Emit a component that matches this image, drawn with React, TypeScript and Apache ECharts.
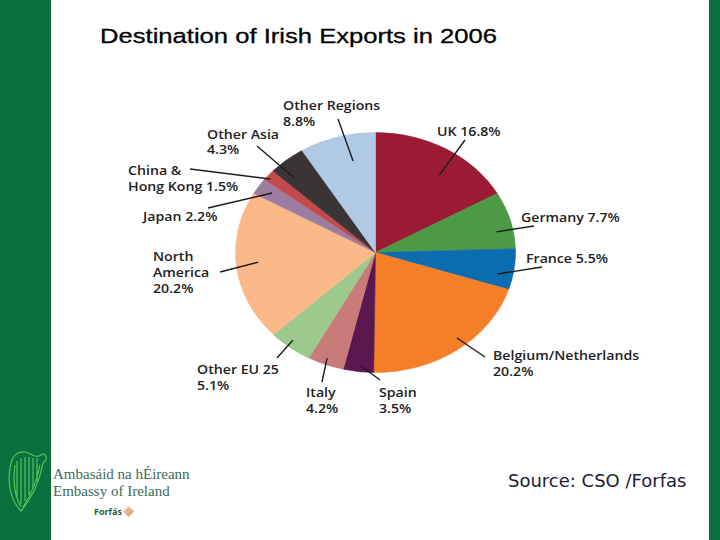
import React, { useEffect, useRef } from "react";
import * as echarts from "echarts";

// ---- data ----
const categories = [
  "UK",
  "Germany",
  "France",
  "Belgium/Netherlands",
  "Spain",
  "Italy",
  "Other EU 25",
  "North\nAmerica",
  "Japan",
  "China &\nHong Kong",
  "Other Asia",
  "Other Regions",
];
const shares = [16.8, 7.7, 5.5, 20.2, 3.5, 4.2, 5.1, 20.2, 2.2, 1.5, 4.3, 8.8];

// ---- styles / layout ----
const sliceColors = [
  "#9a1b33",
  "#4c9a45",
  "#0b6cb0",
  "#f47f27",
  "#5a184f",
  "#c87b79",
  "#9dc98c",
  "#fbb989",
  "#9b7da2",
  "#c4494b",
  "#3b3434",
  "#b0c9e4",
];
// label text position (left x, centre y of first line), separator, leader line
const labelLayout = [
  { tx: 437, ty: 131, sep: " ", rf: 0.79, da: 5, ox: 465, oy: 140 },
  { tx: 521, ty: 216.5, sep: " ", rf: 0.88, da: 4.4, ox: 534, oy: 226 },
  { tx: 526, ty: 257.5, sep: " ", rf: 0.89, da: 3.5, ox: 542, oy: 267 },
  { tx: 493, ty: 355, sep: "\n", rf: 0.92, da: -3.6, ox: 485, oy: 357 },
  { tx: 379, ty: 391.5, sep: "\n", rf: 0.95, da: -0.7, ox: 380, oy: 380 },
  { tx: 306, ty: 391.5, sep: "\n", rf: 0.945, da: 0.6, ox: 322, oy: 382 },
  { tx: 197, ty: 368.5, sep: "\n", rf: 0.94, da: 1.3, ox: 277, oy: 358 },
  { tx: 153, ty: 256, sep: "\n", rf: 0.84, da: 1.4, ox: 220, oy: 272 },
  { tx: 143, ty: 216, sep: " ", rf: 0.89, da: 0.4, ox: 208, oy: 208 },
  { tx: 128, ty: 170, sep: " ", rf: 0.97, da: -1, ox: 190, oy: 169 },
  { tx: 207, ty: 133.3, sep: "\n", rf: 0.85, da: -3.6, ox: 257, oy: 146 },
  { tx: 283, ty: 104.5, sep: "\n", rf: 0.78, da: 4, ox: 338, oy: 119 },
];
const CX = 375.5;
const CY = 252.5;
const RX = 140;
const RY = 120;
const LINE_GAP = 15.8;
const LABEL_FONT = "'Open Sans', 'Noto Sans', sans-serif";
const GREEN = "#07703c";

const harpPath =
  "M 14 62 C 2 50 0 30 4 14 C 6 6 12 2 18 3 C 24 4 28 10 34 6 C 38 3 41 8 38 12 L 36 14 C 33 30 26 48 14 62 Z " +
  "M 33 16 C 30 32 24 46 16 58 M 8 16 C 6 30 7 46 14 58 " +
  "M 10 12 L 10 50 M 14 9 L 14 55 M 18 8 L 18 52 M 22 8 L 22 46 M 26 9 L 26 40 M 30 9 L 30 32";

let registered = false;
function registerShapes() {
  if (registered) return;
  registered = true;
  echarts.graphic.registerShape("harp", echarts.graphic.extendPath(harpPath, {}));
}

export default function App() {
  const ref = useRef<HTMLDivElement>(null);

  useEffect(() => {
    if (!ref.current) return;
    registerShapes();
    const chart = echarts.init(ref.current, undefined, { renderer: "svg" });
    const total = shares.reduce((a, b) => a + b, 0);

    const renderItem = (params: any, api: any) => {
      const i = params.dataIndex;
      const v = api.value(0);
      let before = 0;
      for (let k = 0; k < i; k++) before += shares[k];
      const startFrac = before / total;
      const frac = v / total;
      const startAngle = -Math.PI / 2 + startFrac * Math.PI * 2;
      const endAngle = startAngle + frac * Math.PI * 2;
      const L = labelLayout[i];
      const midDeg = (startFrac + frac / 2) * 360 + L.da;
      const a = (midDeg * Math.PI) / 180;
      const ix = CX + RX * L.rf * Math.sin(a);
      const iy = CY - RY * L.rf * Math.cos(a);
      const text = categories[i] + L.sep + v.toFixed(1) + "%";
      const lines = text.split("\n");
      const children: any[] = [
        {
          type: "sector",
          x: CX,
          y: CY,
          scaleY: RY / RX,
          shape: { cx: 0, cy: 0, r: RX, r0: 0, startAngle, endAngle, clockwise: true },
          style: { fill: sliceColors[i], stroke: sliceColors[i], lineWidth: 0.6 },
        },
        {
          type: "line",
          z2: 10,
          shape: { x1: ix, y1: iy, x2: L.ox, y2: L.oy },
          style: { stroke: "#1c1c1c", lineWidth: 1.4 },
        },
      ];
      lines.forEach((ln, j) => {
        children.push({
          type: "text",
          z2: 10,
          x: L.tx,
          y: L.ty + j * LINE_GAP,
          scaleX: 1.09,
          style: {
            text: ln,
            fill: "#222222",
            font: `600 13px ${LABEL_FONT}`,
            align: "left",
            verticalAlign: "middle",
          },
        });
      });
      return { type: "group", children };
    };

    chart.setOption({
      animation: false,
      backgroundColor: "#ffffff",
      graphic: [
        { type: "rect", shape: { x: 0, y: 0, width: 51, height: 540 }, style: { fill: GREEN } },
        { type: "rect", shape: { x: 709, y: 0, width: 11, height: 540 }, style: { fill: GREEN } },
        {
          type: "text",
          x: 100,
          y: 36,
          scaleX: 1.22,
          style: {
            text: "Destination of Irish Exports in 2006",
            fill: "#000000",
            stroke: "#000000",
            lineWidth: 0.3,
            font: "normal 21px 'Liberation Sans', Arial, sans-serif",
            align: "left",
            verticalAlign: "middle",
          },
        },
        {
          type: "text",
          x: 508,
          y: 480,
          style: {
            text: "Source: CSO /Forfas",
            fill: "#1b2236",
            font: "normal 18px 'DejaVu Sans', sans-serif",
            align: "left",
            verticalAlign: "middle",
          },
        },
        {
          type: "harp",
          x: 7,
          y: 449,
          style: { fill: "none", stroke: "#5cc25a", lineWidth: 1.2 },
        },
        {
          type: "text",
          x: 53,
          y: 474,
          style: {
            text: "Ambasáid na hÉireann",
            fill: "#3c6b5b",
            font: "normal 15px 'Liberation Serif', 'DejaVu Serif', serif",
            align: "left",
            verticalAlign: "middle",
          },
        },
        {
          type: "text",
          x: 53,
          y: 491,
          style: {
            text: "Embassy of Ireland",
            fill: "#3c6b5b",
            font: "normal 15px 'Liberation Serif', 'DejaVu Serif', serif",
            align: "left",
            verticalAlign: "middle",
          },
        },
        {
          type: "text",
          x: 94,
          y: 511.5,
          style: {
            text: "Forfás",
            fill: "#2b5e3d",
            font: "bold 9px 'Noto Sans', sans-serif",
            align: "left",
            verticalAlign: "middle",
          },
        },
        {
          type: "polygon",
          shape: { points: [[128.5, 506], [134, 511.5], [128.5, 517], [123, 511.5]] },
          style: {
            fill: new echarts.graphic.LinearGradient(0, 0, 1, 1, [
              { offset: 0, color: "#f3d2ae" },
              { offset: 1, color: "#d79563" },
            ]),
          },
        },
      ],
      series: [
        {
          type: "custom",
          coordinateSystem: "none",
          silent: true,
          data: shares.map((v) => [v]),
          renderItem,
        },
      ],
    });
    return () => chart.dispose();
  }, []);

  return (
    <div
      ref={ref}
      style={{ position: "fixed", left: 0, top: 0, width: 720, height: 540 }}
    />
  );
}
